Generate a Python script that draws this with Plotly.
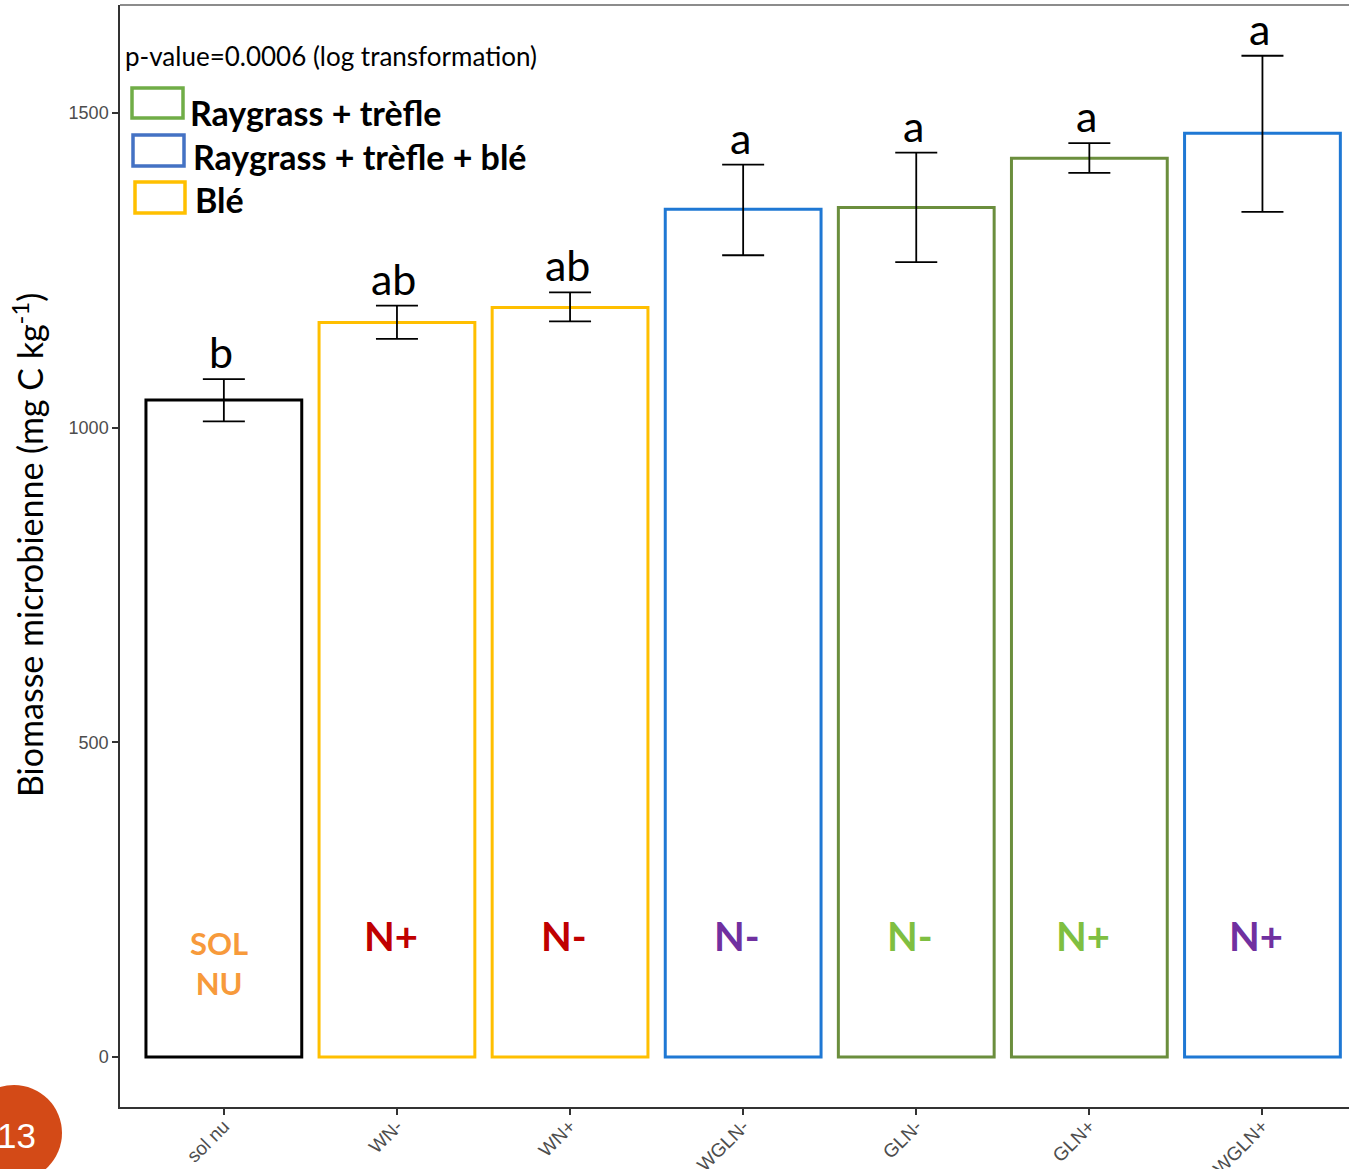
import plotly.graph_objects as go

# ---------------- data ----------------
categories = ["sol nu", "WN-", "WN+", "WGLN-", "GLN-", "GLN+", "WGLN+"]
means = [1044, 1167, 1191, 1347, 1350, 1428, 1468]
err_upper = [1077, 1194, 1215, 1418, 1437, 1452, 1591]
err_lower = [1010, 1141, 1169, 1274, 1263, 1405, 1343]
letters = ["b", "ab", "ab", "a", "a", "a", "a"]
bar_colors = ["#000000", "#FFBF00", "#FFBF00", "#1F78D4", "#6B8E3D", "#6B8E3D", "#1F78D4"]
inner_labels = ["SOL<br>NU", "N+", "N-", "N-", "N-", "N+", "N+"]
inner_colors = ["#F79A3B", "#C00000", "#C00000", "#7030A0", "#7FBF41", "#7FBF41", "#7030A0"]
legend_labels = ["Raygrass + trèfle", "Raygrass + trèfle + blé", "Blé"]
legend_colors = ["#70AD47", "#4472C4", "#FFC000"]
pvalue_text = "p-value=0.0006 (log transformation)"
ytitle = "Biomasse microbienne (mg C kg<sup>-1</sup>)"
y_ticks = [0, 500, 1000, 1500]
page_number = "13"

W, H = 1349, 1169
L, R, T, B = 120, 0, 5, 62
PW = W - L - R
PH = H - T - B


def px_x(x):
    return (x - L) / PW


def px_y(y):
    return 1 - (y - T) / PH


xs = list(range(len(categories)))
plus = [u - m for u, m in zip(err_upper, means)]
minus = [m - l for m, l in zip(means, err_lower)]

fig = go.Figure()
fig.add_trace(go.Bar(
    x=xs, y=means, width=0.9,
    marker=dict(color="rgba(255,255,255,0)", line=dict(color=bar_colors, width=3)),
    error_y=dict(type="data", symmetric=False, array=plus, arrayminus=minus,
                 color="#000000", thickness=1.8, width=21),
    showlegend=False, hoverinfo="skip",
))

annotations = []
# significance letters
for x, u, t in zip(xs, err_upper, letters):
    annotations.append(dict(x=x, y=u, xref="x", yref="y", text=t, showarrow=False,
                            yanchor="bottom", yshift=0, xshift=-3,
                            font=dict(family="Lato", size=43, color="#000000")))
# inner labels
for x, t, c in zip(xs, inner_labels, inner_colors):
    if "<br>" in t:
        txt = "<b>" + t.replace("<br>", "</b><br><b>") + "</b>"
        annotations.append(dict(x=x, y=px_y(963), xref="x", yref="paper", text=txt,
                                showarrow=False, xanchor="center", yanchor="middle",
                                xshift=-5, font=dict(family="Lato", size=31, color=c)))
    else:
        annotations.append(dict(x=x, y=px_y(936), xref="x", yref="paper",
                                text="<b>%s</b>" % t, showarrow=False, xanchor="center",
                                yanchor="middle", xshift=-6,
                                font=dict(family="Lato", size=40, color=c)))

# p-value text
annotations.append(dict(x=px_x(123), y=px_y(56), xref="paper", yref="paper", text=pvalue_text,
                        showarrow=False, xanchor="left", yanchor="middle",
                        font=dict(family="Lato", size=26, color="#000000")))

shapes = []
legend_boxes = [(132, 88, 183, 118), (133, 135, 184, 166), (135, 182, 185, 213)]
legend_text_x = [188, 191, 193]
legend_text_y = [112, 156, 200]
for (x0, y0, x1, y1), lab, col, tx, ty in zip(legend_boxes, legend_labels, legend_colors,
                                                legend_text_x, legend_text_y):
    shapes.append(dict(type="rect", xref="paper", yref="paper",
                       x0=px_x(x0), x1=px_x(x1), y0=px_y(y0), y1=px_y(y1),
                       line=dict(color=col, width=3.5), fillcolor="rgba(0,0,0,0)"))
    annotations.append(dict(x=px_x(tx), y=px_y(ty), xref="paper", yref="paper",
                            text="<b>%s</b>" % lab, showarrow=False, xanchor="left",
                            yanchor="middle",
                            font=dict(family="Lato", size=34, color="#000000")))

# top border
shapes.append(dict(type="line", xref="paper", yref="paper", x0=0, x1=1, y0=1, y1=1,
                   line=dict(color="#8C8C8C", width=2)))

# y axis title
annotations.append(dict(x=px_x(28), y=px_y(545), xref="paper", yref="paper", text=ytitle,
                        showarrow=False, textangle=-90, xanchor="center", yanchor="middle",
                        font=dict(family="Lato", size=34, color="#000000")))

# page badge
shapes.append(dict(type="circle", xref="paper", yref="paper",
                   x0=px_x(-34), x1=px_x(62), y0=px_y(1085), y1=px_y(1181),
                   fillcolor="#D34A17", line=dict(width=0), layer="above"))
annotations.append(dict(x=px_x(16), y=px_y(1135), xref="paper", yref="paper",
                        text=page_number, showarrow=False, xanchor="center", yanchor="middle",
                        font=dict(family="Liberation Sans", size=35, color="#FFFFFF")))

fig.update_layout(
    width=W, height=H,
    margin=dict(l=L, r=R, t=T, b=B, pad=0, autoexpand=False),
    paper_bgcolor="white", plot_bgcolor="white",
    annotations=annotations, shapes=shapes,
    xaxis=dict(range=[-0.6, 6.5], tickmode="array", tickvals=xs, ticktext=categories,
               tickangle=-45, showgrid=False, zeroline=False, showline=True, automargin=False,
               linecolor="#333333", linewidth=1.5, ticks="outside", ticklen=6,
               tickcolor="#333333", tickwidth=1.5, ticklabelstandoff=-7,
               tickfont=dict(family="Liberation Sans", size=19, color="#4D4D4D")),
    yaxis=dict(range=[-79.4, 1671.6], tickmode="array", tickvals=y_ticks,
               showgrid=False, zeroline=False, showline=True, automargin=False,
               linecolor="#333333", linewidth=1.5, ticks="outside", ticklen=6,
               tickcolor="#333333", tickwidth=1.5,
               tickfont=dict(family="Liberation Sans", size=18, color="#4D4D4D")),
    bargap=0.1,
)

fig.write_html("out.html", config={"displayModeBar": False},
               post_script="document.body.style.margin='0px';document.body.style.overflow='hidden';")
